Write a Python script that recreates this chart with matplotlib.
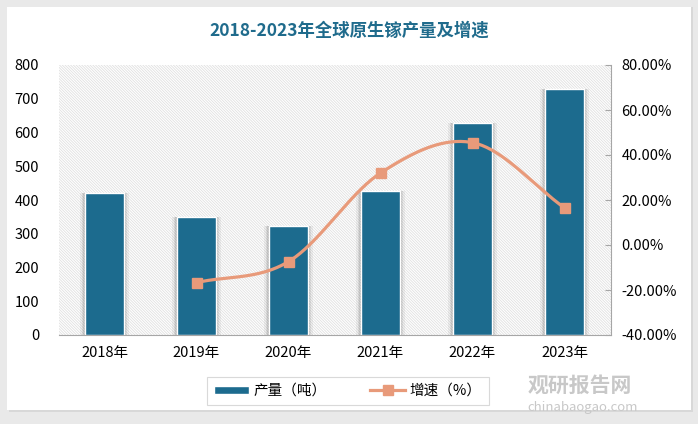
import numpy as np
import matplotlib.pyplot as plt
from matplotlib.patches import Rectangle

plt.rcParams['font.family'] = ['Noto Sans CJK SC', 'DejaVu Sans']
plt.rcParams['hatch.linewidth'] = 0.6

years = ["2018年", "2019年", "2020年", "2021年", "2022年", "2023年"]
output = [420, 350, 324, 428, 627, 730]
growth = [None, -16.7, -7.4, 32.0, 45.5, 16.5]

bar_color = "#1c6b8e"
line_color = "#e89a7a"

fig = plt.figure(figsize=(6.98, 4.24), dpi=100, facecolor="#e9e9e9")
# white card
fig.patches.append(Rectangle((9 / 698, 1 - 412 / 424), 684 / 698, 405 / 424,
                             transform=fig.transFigure, facecolor="#d8d8d8",
                             edgecolor="none", zorder=-10))
fig.patches.append(Rectangle((7 / 698, 1 - 410 / 424), 684 / 698, 403 / 424,
                             transform=fig.transFigure, facecolor="white",
                             edgecolor="none", zorder=-9))

ax = fig.add_axes([58.5 / 698, 1 - 335 / 424, 552 / 698, 270 / 424])
ax.set_facecolor("white")
ax.patch.set_hatch("\\\\\\\\\\\\\\\\\\\\\\\\")
ax.patch.set_edgecolor("#e0e0e0")
ax.patch.set_linewidth(0)

x = np.arange(len(years))
w = 0.43
# soft shadows
for k, a in [(0.05, 0.05), (0.03, 0.07), (0.015, 0.08)]:
    ax.bar(x, output, width=w + 2 * k, bottom=0, color="black", alpha=a,
           linewidth=0, zorder=1)
ax.bar(x, output, width=w, color=bar_color, edgecolor="white", linewidth=1,
       zorder=2, label="产量（吨）")

ax.set_xlim(-0.5, 5.5)
ax.set_ylim(0, 800)
ax.set_yticks(range(0, 801, 100))
ax.set_xticks(x)
ax.set_xticklabels(years)
ax.tick_params(axis="y", length=0, labelsize=10.5, pad=14)
ax.tick_params(axis="x", length=0, labelsize=10.5, pad=8)
for s in ["top", "right", "left"]:
    ax.spines[s].set_visible(False)
ax.spines["bottom"].set_color("#a6a6a6")

ax2 = ax.twinx()
ax2.set_ylim(-40, 80)
ax2.set_yticks(range(-40, 81, 20))
ax2.set_yticklabels([f"{v:.2f}%" for v in range(-40, 81, 20)])
ax2.tick_params(axis="y", direction="in", length=4, color="#a6a6a6",
                labelsize=10.5, pad=8)
for s in ["top", "left", "bottom"]:
    ax2.spines[s].set_visible(False)
ax2.spines["right"].set_color("#a6a6a6")

# smoothed line (Catmull-Rom in pixel-like space)
gx = np.array([i for i, g in enumerate(growth) if g is not None], dtype=float)
gy = np.array([g for g in growth if g is not None], dtype=float)
sx, sy = 92.0, 270.0 / 120.0
px, py = gx * sx, gy * sy
P = np.column_stack([px, py])
P = np.vstack([P[0] - (P[1] - P[0]), P, P[-1] + (P[-1] - P[-2])])
curve = []
for i in range(1, len(P) - 2):
    p0, p1, p2, p3 = P[i - 1], P[i], P[i + 1], P[i + 2]
    t = np.linspace(0, 1, 40)[:, None]
    c = 0.5 * ((2 * p1) + (-p0 + p2) * t + (2 * p0 - 5 * p1 + 4 * p2 - p3) * t ** 2
               + (-p0 + 3 * p1 - 3 * p2 + p3) * t ** 3)
    curve.append(c)
curve = np.vstack(curve)
ax2.plot(curve[:, 0] / sx, curve[:, 1] / sy, color=line_color, lw=2.3, zorder=3)
ax2.plot(gx, gy, ls="none", marker="s", ms=7.5, color=line_color, zorder=4)
ax2.plot([], [], color=line_color, lw=2.3, marker="s", ms=7.5, label="增速（%）")

h1, l1 = ax.get_legend_handles_labels()
h2, l2 = ax2.get_legend_handles_labels()
leg = fig.legend(h1 + h2, l1 + l2, loc="center", bbox_to_anchor=(348 / 698, 1 - 391 / 424),
                 ncol=2, fontsize=10.5, frameon=True, fancybox=False,
                 edgecolor="#d0d0d0", handlelength=2.4, handleheight=0.5,
                 handletextpad=0.3, columnspacing=3.0, borderpad=0.5,
                 borderaxespad=0)
leg.get_frame().set_linewidth(0.8)

fig.text(349 / 698, 1 - 31 / 424, "2018-2023年全球原生镓产量及增速", ha="center",
         va="center", fontsize=12.5, fontweight="bold", color="#1f6b8c")

# watermark
fig.text(580 / 698, 1 - 385 / 424, "观研报告网", ha="center", va="center",
         fontsize=15, fontweight="bold", color="#c8c8c8", zorder=5)
fig.text(583 / 698, 1 - 407 / 424, "chinabaogao.com", ha="center", va="center",
         fontsize=9.5, color="#c8c8c8", zorder=5)

fig.savefig("out.png", dpi=100, facecolor=fig.get_facecolor())
